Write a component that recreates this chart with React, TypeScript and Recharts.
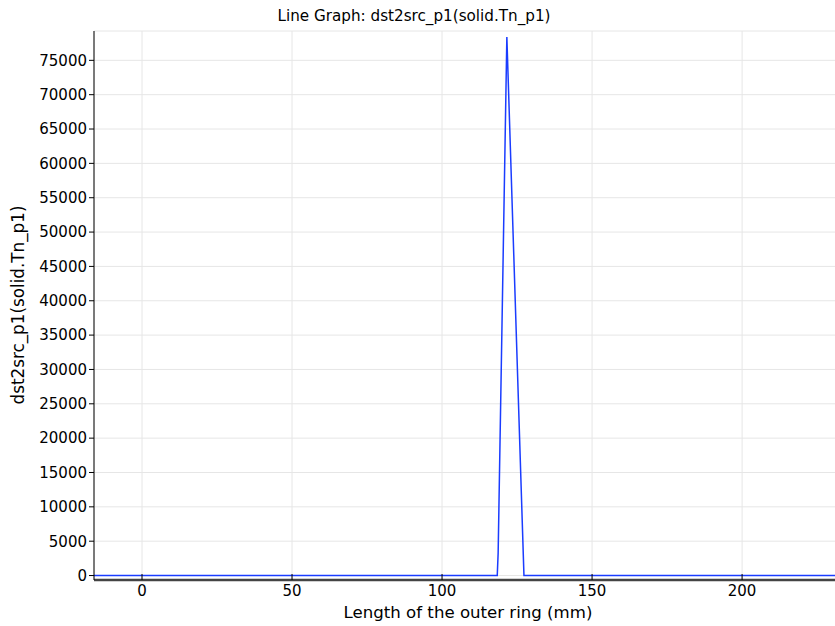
import { LineChart, Line, XAxis, YAxis, CartesianGrid } from 'recharts';

// length along the outer ring (mm) and the sampled dst2src_p1(solid.Tn_p1)
const lengthMm = [-16, 118.4, 118.7, 121.6, 127.3, 245];
const tnValues = [0, 0, 3300, 78400, 0, 0];

const xTicks = [0, 50, 100, 150, 200];
const yTicks = [0, 5000, 10000, 15000, 20000, 25000, 30000, 35000, 40000, 45000, 50000, 55000, 60000, 65000, 70000, 75000];

const data = lengthMm.map((x, i) => ({ x, y: tnValues[i] }));

const font = 'DejaVu Sans, sans-serif';
const tickStyle = { fontSize: 15, fill: '#000', fontFamily: font };

export default function App() {
  return (
    <div
      style={{
        position: 'fixed',
        left: 0,
        top: 0,
        width: 835,
        height: 626,
        overflow: 'hidden',
        background: '#fff',
        fontFamily: font,
      }}
    >
      <div style={{ position: 'absolute', left: 0, width: 828, top: 7, textAlign: 'center', fontSize: 15.2 }}>
        Line Graph: dst2src_p1(solid.Tn_p1)
      </div>
      <div
        style={{
          position: 'absolute',
          left: 18,
          top: 305,
          transform: 'translate(-50%, -50%) rotate(-90deg)',
          whiteSpace: 'nowrap',
          fontSize: 16.8,
        }}
      >
        dst2src_p1(solid.Tn_p1)
      </div>
      <div style={{ position: 'absolute', left: 268, width: 400, top: 603, textAlign: 'center', fontSize: 16.6 }}>
        Length of the outer ring (mm)
      </div>
      <LineChart width={860} height={626} data={data} margin={{ top: 31, right: 18, bottom: 0, left: 0 }}>
        <CartesianGrid stroke="#e6e6e6" strokeWidth={1} ticks={xTicks} />
        <XAxis
          type="number"
          dataKey="x"
          domain={[-16, 233.3]}
          ticks={xTicks}
          allowDataOverflow
          height={46}
          tickSize={-6}
          tickMargin={11}
          tick={tickStyle}
          axisLine={{ stroke: '#444', strokeWidth: 2.5 }}
          tickLine={{ stroke: '#000' }}
        />
        <XAxis
          xAxisId="top"
          orientation="top"
          type="number"
          dataKey="x"
          domain={[-16, 233.3]}
          ticks={xTicks}
          allowDataOverflow
          height={0}
          tickSize={-6}
          tick={{ fill: 'transparent', fontSize: 1 }}
          axisLine={{ stroke: '#000' }}
          tickLine={{ stroke: '#000' }}
        />
        <YAxis
          type="number"
          domain={[-650, 79270]}
          ticks={yTicks}
          allowDataOverflow
          width={94}
          tickSize={5}
          tickMargin={2}
          tick={tickStyle}
          axisLine={{ stroke: '#000' }}
          tickLine={{ stroke: '#000' }}
        />
        <Line
          type="linear"
          dataKey="y"
          stroke="#1a3cff"
          strokeWidth={1.5}
          dot={false}
          isAnimationActive={false}
        />
      </LineChart>
    </div>
  );
}
